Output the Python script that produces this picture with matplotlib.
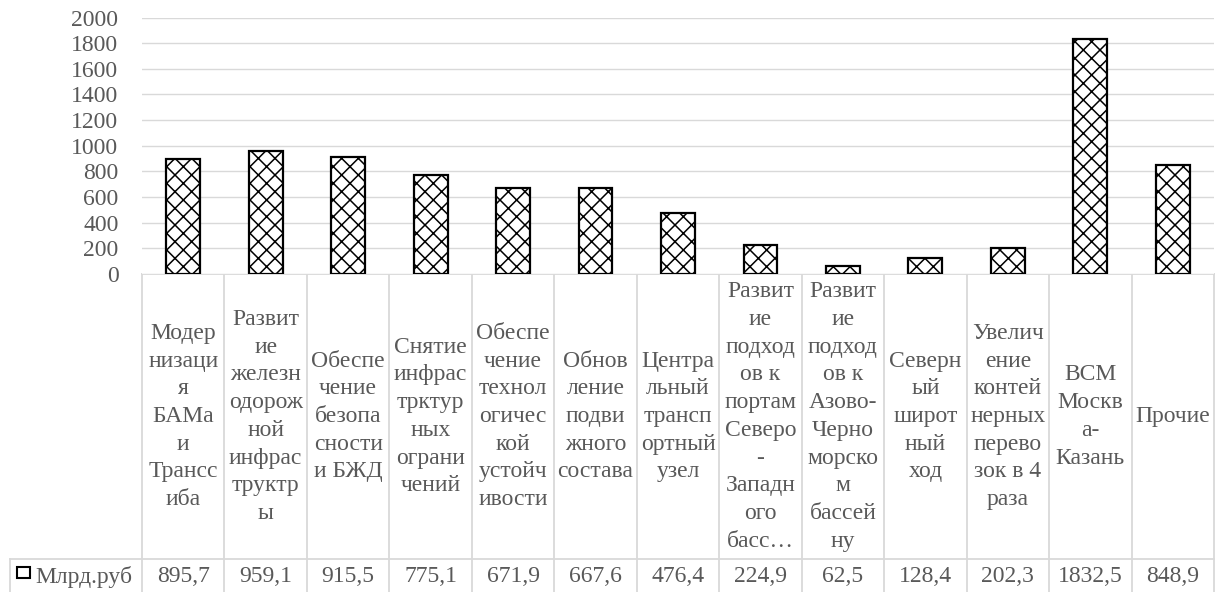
import matplotlib.pyplot as plt
import matplotlib.transforms as mtransforms
from matplotlib.patches import Rectangle
import numpy as np

plt.rcParams.update({'font.family': ['Liberation Serif', 'DejaVu Serif'],
                     'font.size': 17,
                     'hatch.linewidth': 1.1})

# category labels, pre-wrapped the way Excel breaks them
categories = [
    "Модер\nнизаци\nя\nБАМа\nи\nТрансс\nиба",
    "Развит\nие\nжелезн\nодорож\nной\nинфрас\nтруктр\nы",
    "Обеспе\nчение\nбезопа\nсности\nи БЖД",
    "Снятие\nинфрас\nтрктур\nных\nограни\nчений",
    "Обеспе\nчение\nтехнол\nогичес\nкой\nустойч\nивости",
    "Обнов\nление\nподви\nжного\nсостава",
    "Центра\nльный\nтрансп\nортный\nузел",
    "Развит\nие\nподход\nов к\nпортам\nСеверо\n-\nЗападн\nого\nбасс…",
    "Развит\nие\nподход\nов к\nАзово-\nЧерно\nморско\nм\nбассей\nну",
    "Северн\nый\nширот\nный\nход",
    "Увелич\nение\nконтей\nнерных\nперево\nзок в 4\nраза",
    "ВСМ\nМоскв\nа-\nКазань",
    "Прочие",
]
values = [895.7, 959.1, 915.5, 775.1, 671.9, 667.6, 476.4, 224.9, 62.5, 128.4, 202.3, 1832.5, 848.9]
series_name = "Млрд.руб"
yticks = [0, 200, 400, 600, 800, 1000, 1200, 1400, 1600, 1800, 2000]

W, H = 1226, 592
TEXT = '#595959'
GRID = '#d9d9d9'

fig = plt.figure(figsize=(W / 100, H / 100), dpi=100)
ax = fig.add_axes([142 / W, (H - 274) / H, 1072 / W, (274 - 17.5) / H])

x = np.arange(len(values))
ax.bar(x, values, width=0.41, color='white', edgecolor='black', linewidth=1.6,
       hatch='xx', zorder=3)
ax.set_xlim(-0.5, len(values) - 0.5)
ax.set_ylim(0, 2000)
ax.set_yticks(yticks)
ax.set_xticks([])
ax.tick_params(axis='y', length=0, pad=17, colors=TEXT, labelsize=17)
ax.grid(axis='y', color=GRID, linewidth=1.0, zorder=0)
for s in ax.spines.values():
    s.set_visible(False)

# overlay in pixel coordinates for the data table
ov = fig.add_axes([0, 0, 1, 1], zorder=-1)
ov.set_xlim(0, W)
ov.set_ylim(H, 0)
ov.axis('off')
ov.patch.set_alpha(0)
tr = mtransforms.blended_transform_factory(ax.transData, ov.transData)

row_top, row_mid, row_bot = 274, 559, 594
for b in np.arange(len(values) + 1) - 0.5:
    ov.plot([b, b], [row_top, row_bot], color=GRID, lw=1.3, transform=tr)
ov.plot([10, 1214], [row_mid, row_mid], color=GRID, lw=1.3)
ov.plot([10, 10], [row_mid, row_bot], color=GRID, lw=1.3)
ov.plot([142, 1214], [row_top, row_top], color=GRID, lw=1.3)

for i, (c, v) in enumerate(zip(categories, values)):
    ov.text(i, (row_top + row_mid) / 2, c, transform=tr, ha='center', va='center',
            color=TEXT, fontsize=17, linespacing=1.42, multialignment='center')
    ov.text(i, 577, f"{v:.1f}".replace('.', ','), transform=tr, ha='center',
            va='center', color=TEXT, fontsize=17)

ov.add_patch(Rectangle((17, 567), 13, 11, facecolor='white', edgecolor='black', lw=1.5))
ov.text(35, 577, series_name, ha='left', va='center', color=TEXT, fontsize=17)

fig.savefig('out.png', dpi=100)
